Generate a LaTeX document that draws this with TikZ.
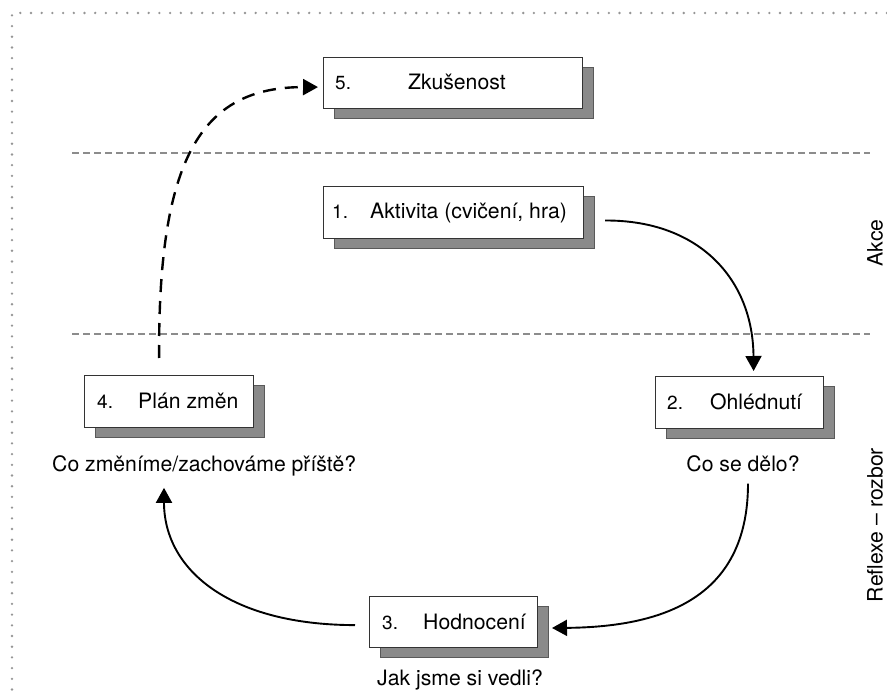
\documentclass[tikz,border=0pt]{standalone}
\usepackage{fontspec}
\setmainfont{TeX Gyre Heros}
\usetikzlibrary{arrows.meta,calc}
\definecolor{shadowgray}{HTML}{8A8A8A}
\definecolor{sepgray}{HTML}{8C8C8C}
\definecolor{dotgray}{HTML}{959595}
\begin{document}
\begin{tikzpicture}[x=1pt,y=-1pt,
  font=\fontsize{21.2}{25}\selectfont,
  frontbox/.style={draw=black!80, line width=1.2pt, fill=white, inner sep=0pt, anchor=north west},
  shadowbox/.style={draw=black!65, line width=1pt, fill=shadowgray, inner sep=0pt, anchor=north west},
  numlbl/.style={inner sep=0pt, anchor=base west, font=\fontsize{19}{23}\selectfont},
  boxlbl/.style={inner sep=0pt, anchor=base west},
  question/.style={inner sep=0pt, anchor=base},
  sidelbl/.style={inner sep=0pt, rotate=90},
  conn/.style={line width=1.9pt, -{Triangle[length=15pt,width=16pt]}},
  dconn/.style={line width=2.4pt, dash pattern=on 13pt off 9pt, -{Triangle[length=15pt,width=16pt]}},
  sep/.style={draw=sepgray, line width=1.2pt, dash pattern=on 7pt off 4pt},
  border/.style={draw=dotgray, line width=2.6pt, line cap=round, dash pattern=on 0pt off 10.7pt}
  ]
\useasboundingbox (0,0) rectangle (887,695);

% dotted frame
\coordinate (fr1) at (12,13);
\coordinate (fr2) at (887,13);
\coordinate (fr3) at (12,695);
\draw[border] (fr2) -- (fr1) -- (fr3);

% separators
\coordinate (s1a) at (72,153);
\coordinate (s1b) at (870,153);
\coordinate (s2a) at (72,334);
\coordinate (s2b) at (870,334);
\draw[sep] (s1a) -- (s1b);
\draw[sep] (s2a) -- (s2b);

% box 5
\node[shadowbox, minimum width=259pt, minimum height=51pt] (s5) at (334,67) {};
\node[frontbox, minimum width=259pt, minimum height=51pt] (b5) at (323,57) {};
\node[numlbl] (n5) at (335,90) {5.};
\node[boxlbl] (t5) at (408,90) {Zkušenost};

% box 1
\node[shadowbox, minimum width=260pt, minimum height=52pt] (s1) at (334,196) {};
\node[frontbox, minimum width=260pt, minimum height=52pt] (b1) at (323,186) {};
\node[numlbl] (n1) at (332,219) {1.};
\node[boxlbl] (t1) at (370,219) {Aktivita (cvičení, hra)};

% box 4
\node[shadowbox, minimum width=169pt, minimum height=52pt] (s4) at (95,385) {};
\node[frontbox, minimum width=169pt, minimum height=52pt] (b4) at (84,375) {};
\node[numlbl] (n4) at (97,408) {4.};
\node[boxlbl] (t4) at (138,408) {Plán změn};

% box 2
\node[shadowbox, minimum width=168pt, minimum height=52pt] (s2) at (666,386) {};
\node[frontbox, minimum width=168pt, minimum height=52pt] (b2) at (655,376) {};
\node[numlbl] (n2) at (667,409) {2.};
\node[boxlbl] (t2) at (710,409) {Ohlédnutí};

% box 3
\node[shadowbox, minimum width=168pt, minimum height=51pt] (s3) at (380,606) {};
\node[frontbox, minimum width=168pt, minimum height=51pt] (b3) at (369,596) {};
\node[numlbl] (n3) at (382,629) {3.};
\node[boxlbl] (t3) at (423,629) {Hodnocení};

% questions
\node[inner sep=0pt, anchor=base west] (q4) at (52,471) {Co změníme/zachováme příště?};
\node[question] (q2) at (743,471) {Co se dělo?};
\node[inner sep=0pt, anchor=base west] (q3) at (377,685) {Jak jsme si vedli?};

% side labels
\node[sidelbl] (akce) at (875,243) {Akce};
\node[sidelbl] (reflexe) at (875,525) {Reflexe – rozbor};

% connectors
\draw[conn] ([xshift=10pt,yshift=2pt]s1.east) .. controls (700,220) and (753,280) .. ([xshift=14pt,yshift=5pt]b2.north);
\draw[conn] ([xshift=5pt,yshift=-12pt]q2.south) .. controls (748,600) and (660,627) .. ([xshift=3pt,yshift=4pt]s3.east);
\draw[conn] ([xshift=-14pt,yshift=-3pt]b3.west) .. controls (230,625) and (164,570) .. ([xshift=112pt,yshift=-12pt]q4.south west);
\draw[dconn] ([xshift=-10pt,yshift=17pt]b4.north) .. controls (158,160) and (200,87) .. ([xshift=-5pt,yshift=-4pt]b5.west);
\end{tikzpicture}
\end{document}
